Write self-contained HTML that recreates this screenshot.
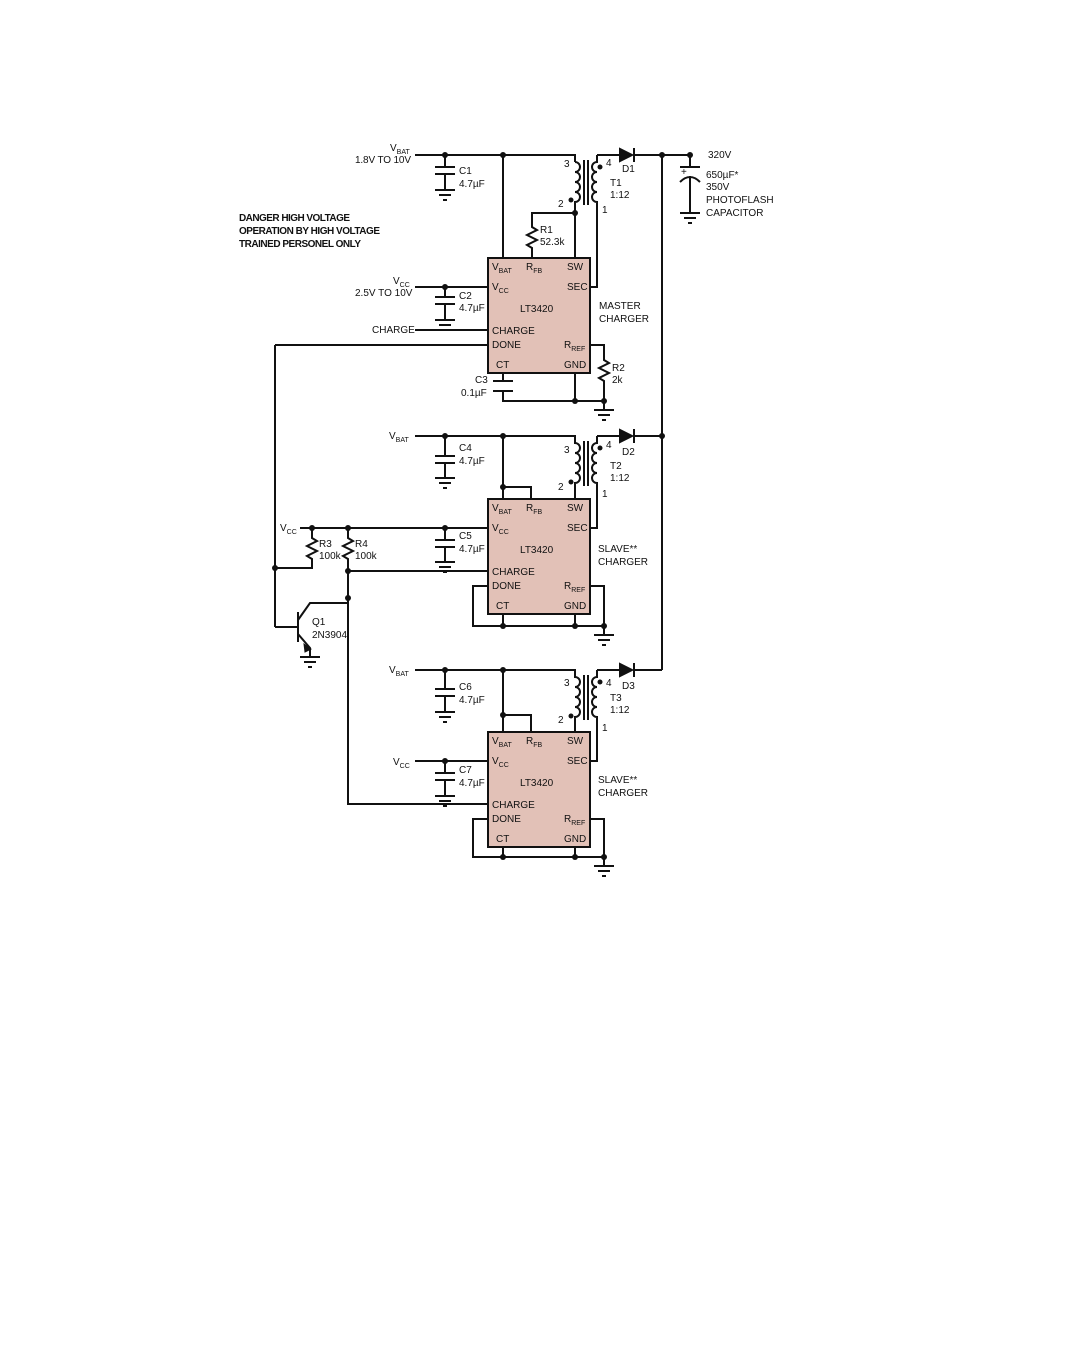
<!DOCTYPE html>
<html><head><meta charset="utf-8"><style>
html,body{margin:0;padding:0;background:#fff;}
svg{display:block;font-family:"Liberation Sans",sans-serif;}
text{font-size:10px;fill:#111;}
.b{font-weight:bold;}
</style></head><body>
<svg width="1072" height="1372" viewBox="0 0 1072 1372" xmlns="http://www.w3.org/2000/svg">
<g stroke="#111" stroke-width="2" fill="none">
<rect x="488" y="258" width="102" height="115" fill="#e2c1b7"/>
<path d="M415,155H575V162"/>
<path d="M575,162a5,5 0 0,1 0,10a5,5 0 0,1 0,10a5,5 0 0,1 0,10a5,5 0 0,1 0,10V258"/>
<path d="M584,160V205M588,160V205"/>
<path d="M597,155V162a5,5 0 0,0 0,10a5,5 0 0,0 0,10a5,5 0 0,0 0,10a5,5 0 0,0 0,10V287H590"/>
<path d="M597,155H620M634,155H690"/>
<path d="M532,258V248l-5,-3l10,-5l-10,-5l10,-5l-5,-3V213H575"/>
<path d="M503,155V258"/>
<path d="M445,155V167M435,167H455M435,174H455M445,174V190"/>
<path d="M415,287H488M445,287V297M435,297H455M435,304H455M445,304V320"/>
<path d="M415,330H488"/>
<path d="M275,345H488M275,345V627"/>
<path d="M590,345H604V360l5,3l-10,5l10,5l-10,5l5,3V401H503V391M493,391H513M493,381H513M503,381V373"/>
<path d="M575,373V401M604,401V410"/>
<path d="M690,155V167M680,167H700M680,182Q690,172 700,182M690,176V213"/>
<path d="M662,155V670"/>
<rect x="488" y="499" width="102" height="115" fill="#e2c1b7"/>
<path d="M415,436H575V443a5,5 0 0,1 0,10a5,5 0 0,1 0,10a5,5 0 0,1 0,10a5,5 0 0,1 0,10V499"/>
<path d="M584,441V486M588,441V486"/>
<path d="M597,436V443a5,5 0 0,0 0,10a5,5 0 0,0 0,10a5,5 0 0,0 0,10a5,5 0 0,0 0,10V528H590"/>
<path d="M597,436H620M634,436H662"/>
<path d="M503,436V499M503,487H531V499"/>
<path d="M445,436V456M435,456H455M435,463H455M445,463V478"/>
<path d="M300,528H488M445,528V540M435,540H455M435,547H455M445,547V562"/>
<path d="M312,528V538l5,3l-10,5l10,5l-10,5l5,3V568H275"/>
<path d="M348,528V538l5,3l-10,5l10,5l-10,5l5,3V804H488M348,571H488"/>
<path d="M488,586H473V626H604M503,614V626M575,614V626M590,586H604V635"/>
<path d="M275,627H298M298,612V642M298,620L310,603H348M298,634L310,648V657"/>
<rect x="488" y="732" width="102" height="115" fill="#e2c1b7"/>
<path d="M415,670H575V677a5,5 0 0,1 0,10a5,5 0 0,1 0,10a5,5 0 0,1 0,10a5,5 0 0,1 0,10V732"/>
<path d="M584,675V720M588,675V720"/>
<path d="M597,670V677a5,5 0 0,0 0,10a5,5 0 0,0 0,10a5,5 0 0,0 0,10a5,5 0 0,0 0,10V761H590"/>
<path d="M597,670H620M634,670H662"/>
<path d="M503,670V732M503,715H531V732"/>
<path d="M445,670V689M435,689H455M435,696H455M445,696V712"/>
<path d="M415,761H488M445,761V773M435,773H455M435,780H455M445,780V796"/>
<path d="M488,819H473V857H604M503,847V857M575,847V857M590,819H604V866"/>
</g>
<g stroke="#111" stroke-width="2">
<path d="M435,190H455M439,195H451M443,200H447"/>
<path d="M435,320H455M439,325H451M443,330H447"/>
<path d="M594,410H614M598,415H610M602,420H606"/>
<path d="M680,213H700M684,218H696M688,223H692"/>
<path d="M435,478H455M439,483H451M443,488H447"/>
<path d="M435,562H455M439,567H451M443,572H447"/>
<path d="M594,635H614M598,640H610M602,645H606"/>
<path d="M300,657H320M304,662H316M308,667H312"/>
<path d="M435,712H455M439,717H451M443,722H447"/>
<path d="M435,796H455M439,801H451M443,806H447"/>
<path d="M594,866H614M598,871H610M602,876H606"/>
</g>
<g fill="#111" stroke="#111" stroke-width="2">
<path d="M620,149V161L632,155Z"/><path d="M634,148V162" fill="none"/>
<path d="M620,430V442L632,436Z"/><path d="M634,429V443" fill="none"/>
<path d="M620,664V676L632,670Z"/><path d="M634,663V677" fill="none"/>
<path d="M304,644L311,649L305,652Z" stroke-width="1"/>
</g>
<g fill="#111">
<circle cx="445" cy="155" r="3"/><circle cx="503" cy="155" r="3"/><circle cx="662" cy="155" r="3"/><circle cx="690" cy="155" r="3"/>
<circle cx="575" cy="213" r="3"/><circle cx="445" cy="287" r="3"/><circle cx="575" cy="401" r="3"/><circle cx="604" cy="401" r="3"/>
<circle cx="600" cy="167" r="2.5"/><circle cx="571" cy="200" r="2.5"/>
<circle cx="445" cy="436" r="3"/><circle cx="503" cy="436" r="3"/><circle cx="662" cy="436" r="3"/><circle cx="503" cy="487" r="3"/>
<circle cx="600" cy="448" r="2.5"/><circle cx="571" cy="482" r="2.5"/>
<circle cx="312" cy="528" r="3"/><circle cx="348" cy="528" r="3"/><circle cx="445" cy="528" r="3"/>
<circle cx="275" cy="568" r="3"/><circle cx="348" cy="571" r="3"/><circle cx="348" cy="598" r="3"/>
<circle cx="503" cy="626" r="3"/><circle cx="575" cy="626" r="3"/><circle cx="604" cy="626" r="3"/>
<circle cx="445" cy="670" r="3"/><circle cx="503" cy="670" r="3"/><circle cx="503" cy="715" r="3"/>
<circle cx="600" cy="682" r="2.5"/><circle cx="571" cy="716" r="2.5"/>
<circle cx="445" cy="761" r="3"/>
<circle cx="503" cy="857" r="3"/><circle cx="575" cy="857" r="3"/><circle cx="604" cy="857" r="3"/>
</g>
<text class="b" x="239" y="221" textLength="111">DANGER HIGH VOLTAGE</text>
<text class="b" x="239" y="234" textLength="141">OPERATION BY HIGH VOLTAGE</text>
<text class="b" x="239" y="247" textLength="122">TRAINED PERSONEL ONLY</text>
<text x="390" y="151">V<tspan font-size="7" dy="3">BAT</tspan></text>
<text x="355" y="163" textLength="56">1.8V TO 10V</text>
<text x="459" y="174">C1</text><text x="459" y="187">4.7µF</text>
<text x="564" y="167">3</text><text x="558" y="207">2</text><text x="606" y="166">4</text>
<text x="622" y="172">D1</text><text x="610" y="186">T1</text><text x="610" y="198">1:12</text><text x="602" y="213">1</text>
<text x="540" y="233">R1</text><text x="540" y="245">52.3k</text>
<text x="708" y="158">320V</text>
<text x="681" y="175" font-size="12">+</text>
<text x="706" y="178">650µF*</text><text x="706" y="190">350V</text><text x="706" y="203">PHOTOFLASH</text><text x="706" y="216">CAPACITOR</text>
<text x="393" y="284">V<tspan font-size="7" dy="3">CC</tspan></text>
<text x="355" y="296">2.5V TO 10V</text>
<text x="459" y="299">C2</text>
<text x="459" y="311">4.7µF</text>
<text x="372" y="333">CHARGE</text>
<text x="475" y="383">C3</text><text x="461" y="396">0.1µF</text>
<text x="612" y="371">R2</text><text x="612" y="383">2k</text>
<text x="599" y="309">MASTER</text><text x="599" y="322">CHARGER</text>
<g>
<text x="492" y="270">V<tspan font-size="7" dy="3">BAT</tspan></text>
<text x="526" y="270">R<tspan font-size="7" dy="3">FB</tspan></text>
<text x="567" y="270">SW</text>
<text x="492" y="290">V<tspan font-size="7" dy="3">CC</tspan></text>
<text x="567" y="290">SEC</text>
<text x="520" y="312">LT3420</text>
<text x="492" y="334">CHARGE</text><text x="492" y="348">DONE</text>
<text x="564" y="348">R<tspan font-size="7" dy="3">REF</tspan></text>
<text x="496" y="368">CT</text><text x="564" y="368">GND</text>
</g>
<g transform="translate(0,241)">
<text x="492" y="270">V<tspan font-size="7" dy="3">BAT</tspan></text>
<text x="526" y="270">R<tspan font-size="7" dy="3">FB</tspan></text>
<text x="567" y="270">SW</text>
<text x="492" y="290">V<tspan font-size="7" dy="3">CC</tspan></text>
<text x="567" y="290">SEC</text>
<text x="520" y="312">LT3420</text>
<text x="492" y="334">CHARGE</text><text x="492" y="348">DONE</text>
<text x="564" y="348">R<tspan font-size="7" dy="3">REF</tspan></text>
<text x="496" y="368">CT</text><text x="564" y="368">GND</text>
</g>
<g transform="translate(0,474)">
<text x="492" y="270">V<tspan font-size="7" dy="3">BAT</tspan></text>
<text x="526" y="270">R<tspan font-size="7" dy="3">FB</tspan></text>
<text x="567" y="270">SW</text>
<text x="492" y="290">V<tspan font-size="7" dy="3">CC</tspan></text>
<text x="567" y="290">SEC</text>
<text x="520" y="312">LT3420</text>
<text x="492" y="334">CHARGE</text><text x="492" y="348">DONE</text>
<text x="564" y="348">R<tspan font-size="7" dy="3">REF</tspan></text>
<text x="496" y="368">CT</text><text x="564" y="368">GND</text>
</g>
<text x="389" y="439">V<tspan font-size="7" dy="3">BAT</tspan></text>
<text x="459" y="451">C4</text><text x="459" y="464">4.7µF</text>
<text x="564" y="453">3</text><text x="558" y="490">2</text><text x="606" y="448">4</text>
<text x="622" y="455">D2</text><text x="610" y="469">T2</text><text x="610" y="481">1:12</text><text x="602" y="497">1</text>
<text x="280" y="531">V<tspan font-size="7" dy="3">CC</tspan></text>
<text x="319" y="547">R3</text><text x="319" y="559">100k</text>
<text x="355" y="547">R4</text><text x="355" y="559">100k</text>
<text x="459" y="539">C5</text><text x="459" y="552">4.7µF</text>
<text x="598" y="552">SLAVE**</text><text x="598" y="565">CHARGER</text>
<text x="312" y="625">Q1</text><text x="312" y="638">2N3904</text>
<text x="389" y="673">V<tspan font-size="7" dy="3">BAT</tspan></text>
<text x="459" y="690">C6</text><text x="459" y="703">4.7µF</text>
<text x="564" y="686">3</text><text x="558" y="723">2</text><text x="606" y="686">4</text>
<text x="622" y="689">D3</text><text x="610" y="701">T3</text><text x="610" y="713">1:12</text><text x="602" y="731">1</text>
<text x="393" y="765">V<tspan font-size="7" dy="3">CC</tspan></text>
<text x="459" y="773">C7</text><text x="459" y="786">4.7µF</text>
<text x="598" y="783">SLAVE**</text><text x="598" y="796">CHARGER</text>
</svg>
</body></html>
